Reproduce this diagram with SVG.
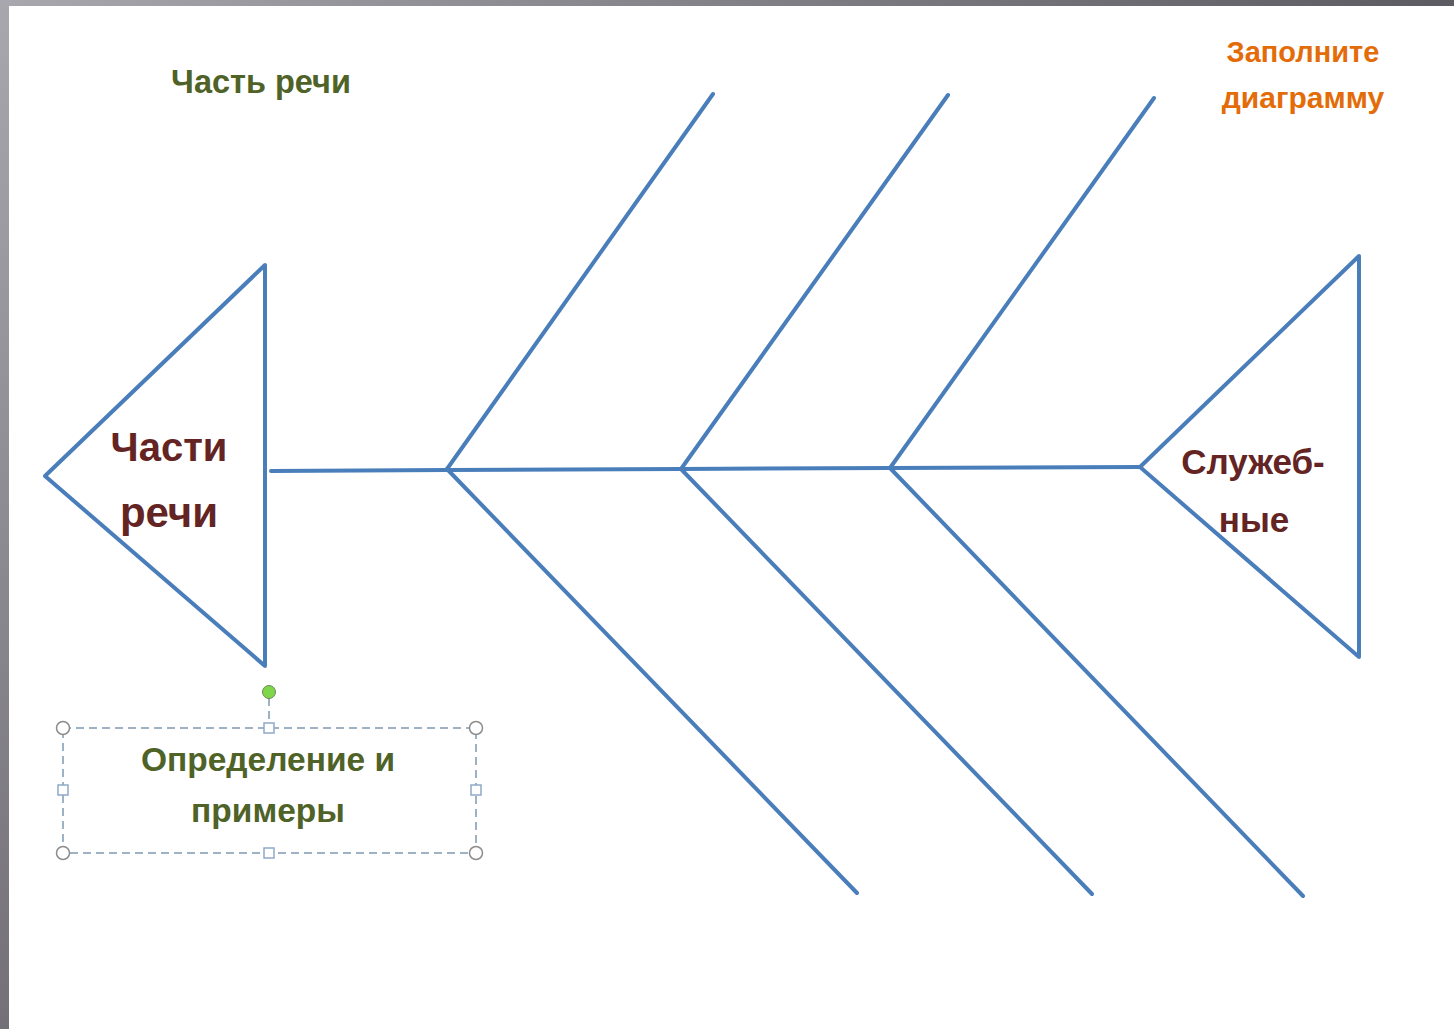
<svg xmlns="http://www.w3.org/2000/svg" width="1454" height="1029" viewBox="0 0 1454 1029">
<style>
.ln{fill:none;stroke:#4a7ebb;stroke-width:4;stroke-linecap:round;stroke-linejoin:round}
.t{font-family:"Liberation Sans",Arial,sans-serif;font-weight:bold;text-anchor:middle}
.red{fill:#632423}
.grn{fill:#4f6228}
.org{fill:#e36c09}
.dash{fill:none;stroke:#7f99b4;stroke-width:1.5;stroke-dasharray:8 5}
.hc{fill:#fff;stroke:#8c8c8c;stroke-width:1.5}
.hs{fill:#fff;stroke:#8fa9c8;stroke-width:1.5}
</style>
<defs>
<linearGradient id="gTop" x1="0" y1="0" x2="1" y2="0">
<stop offset="0" stop-color="#a9a7ae"/>
<stop offset="1" stop-color="#5d5b62"/>
</linearGradient>
<linearGradient id="gLeft" x1="0" y1="0" x2="0" y2="1">
<stop offset="0" stop-color="#a9a7ae"/>
<stop offset="1" stop-color="#737177"/>
</linearGradient>
</defs>
<rect width="1454" height="1029" fill="#ffffff"/>
<rect x="0" y="0" width="1454" height="6" fill="url(#gTop)"/>
<rect x="0" y="0" width="9" height="1029" fill="url(#gLeft)"/>

<g id="connectors">
<polyline class="ln" points="271,471 447,470 681,469 890,468 1140,467"/>
<line class="ln" x1="447" y1="469" x2="713" y2="94"/>
<line class="ln" x1="447" y1="469" x2="857" y2="893"/>
<line class="ln" x1="681" y1="469" x2="948" y2="95"/>
<line class="ln" x1="681" y1="469" x2="1092" y2="894"/>
<line class="ln" x1="890" y1="468" x2="1154" y2="98"/>
<line class="ln" x1="890" y1="468" x2="1303" y2="896"/>
</g>

<g id="head-left">
<polygon class="ln" points="45,476 265,265 265,666"/>
<text class="t red" x="169" y="461" font-size="40">Части</text>
<text class="t red" x="169" y="527" font-size="42">речи</text>
</g>

<g id="tail-right">
<polygon class="ln" points="1140,467 1359,256 1359,657"/>
<text class="t red" x="1253" y="474" font-size="35">Служеб-</text>
<text class="t red" x="1254" y="532" font-size="35">ные</text>
</g>

<g id="title">
<text class="t grn" x="261" y="93" font-size="32.5">Часть речи</text>
</g>

<g id="instruction">
<text class="t org" x="1303" y="62" font-size="29">Заполните</text>
<text class="t org" x="1303" y="108" font-size="30">диаграмму</text>
</g>

<g id="selected-box">
<line class="dash" x1="269" y1="698" x2="269" y2="723"/>
<rect class="dash" x="63" y="728" width="413" height="125"/>
<circle cx="269" cy="692" r="6.5" fill="#7ed64b" stroke="#6a8a5a" stroke-width="1"/>
<circle class="hc" cx="63" cy="728" r="6.5"/>
<circle class="hc" cx="476" cy="728" r="6.5"/>
<circle class="hc" cx="63" cy="853" r="6.5"/>
<circle class="hc" cx="476" cy="853" r="6.5"/>
<rect class="hs" x="264" y="723" width="10" height="10"/>
<rect class="hs" x="264" y="848" width="10" height="10"/>
<rect class="hs" x="58" y="785" width="10" height="10"/>
<rect class="hs" x="471" y="785" width="10" height="10"/>
<text class="t grn" x="268" y="771" font-size="33.5">Определение и</text>
<text class="t grn" x="268" y="822" font-size="33.5">примеры</text>
</g>
</svg>
